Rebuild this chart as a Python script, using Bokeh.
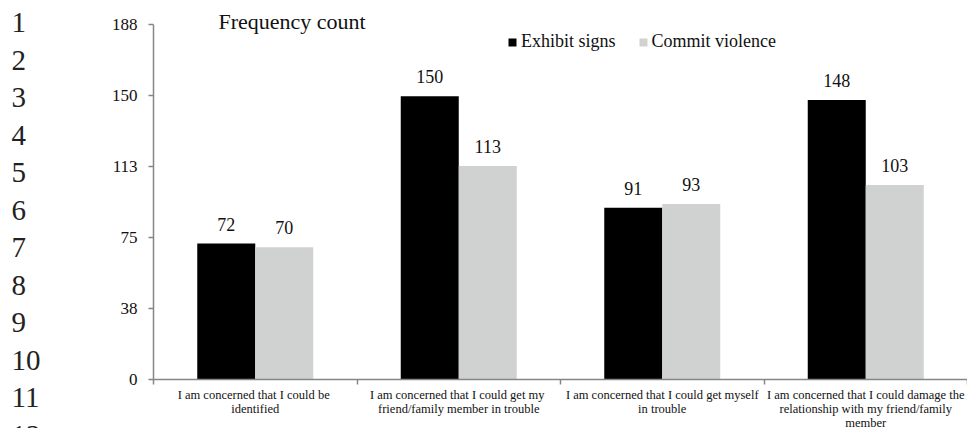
from bokeh.plotting import figure
from bokeh.models import FixedTicker, Range1d, Legend, LegendItem, ColumnDataSource
from bokeh.core.properties import value
from bokeh.embed import file_html
from bokeh.resources import INLINE

# --- data -----------------------------------------------------------------
categories = [
    "I am  concerned that I could be\nidentified",
    "I am concerned that I could  get my\nfriend/family member in trouble",
    "I am concerned that I could get myself\nin trouble",
    "I am concerned that I could damage the\nrelationship with my friend/family\nmember",
]
series_names = ["Exhibit signs", "Commit violence"]
exhibit_signs = [72, 150, 91, 148]
commit_violence = [70, 113, 93, 103]
y_ticks = [0, 37.6, 75.2, 112.8, 150.4, 188]
y_tick_labels = ["0", "38", "75", "113", "150", "188"]
line_numbers = [str(i) for i in range(1, 13)]
chart_title = "Frequency count"

# --- layout / style -------------------------------------------------------
SERIF = "Liberation Serif"
COLORS = ["#000000", "#d0d1d1"]
AXIS_GREY = "#868686"
TEXT = "#111111"
BAR_W = 0.285
W, H = 967, 428
AX_LEFT, AX_TOP, AX_BOTTOM = 153, 24, 379      # pixel box of the axes
N = len(categories)
Y_MAX = y_ticks[-1]
PPU_X = (W - AX_LEFT) / N
PPU_Y = (AX_BOTTOM - AX_TOP) / Y_MAX


def px_x(px):
    return (px - AX_LEFT) / PPU_X


def px_y(py):
    return (AX_BOTTOM - py) / PPU_Y


# The frame covers the whole canvas; both axes sit at data 0 via fixed_location
p = figure(width=W, height=H, output_backend="svg", toolbar_location=None, title=None,
           x_range=Range1d(px_x(0), px_x(W)), y_range=Range1d(px_y(H), px_y(0)),
           min_border=0)
p.outline_line_color = None
p.grid.visible = False
p.background_fill_color = "white"
p.border_fill_color = "white"

centers = [i + 0.5 for i in range(N)]
src = ColumnDataSource(dict(
    x0=[c - BAR_W / 2 for c in centers],
    x1=[c + BAR_W / 2 for c in centers],
    a=exhibit_signs, b=commit_violence,
    la=[str(v) for v in exhibit_signs], lb=[str(v) for v in commit_violence],
))

r_a = p.vbar(x="x0", top="a", width=BAR_W, source=src, fill_color=COLORS[0], line_color=None)
r_b = p.vbar(x="x1", top="b", width=BAR_W, source=src, fill_color=COLORS[1], line_color=None)

for xcol, ycol, lcol in (("x0", "a", "la"), ("x1", "b", "lb")):
    p.text(x=xcol, y=ycol, text=lcol, source=src, text_align="center",
           text_baseline="middle", y_offset=-19.5, text_color=TEXT,
           text_font=value(SERIF), text_font_size="18px")

# --- axes -----------------------------------------------------------------
xa = p.xaxis[0]
xa.fixed_location = 0
xa.bounds = (0, N)
xa.ticker = FixedTicker(ticks=centers, minor_ticks=list(range(N + 1)))
xa.major_label_overrides = dict(zip(centers, categories))
xa.axis_line_color = AXIS_GREY
xa.axis_line_width = 1.5
xa.major_tick_line_color = None
xa.major_tick_out = 0
xa.major_tick_in = 0
xa.minor_tick_line_color = AXIS_GREY
xa.minor_tick_line_width = 1.5
xa.minor_tick_out = 5
xa.minor_tick_in = 0
xa.major_label_standoff = 3
xa.major_label_text_font = SERIF
xa.major_label_text_font_size = "12.5px"
xa.major_label_text_line_height = 1.0
xa.major_label_text_color = TEXT

ya = p.yaxis[0]
ya.fixed_location = 0
ya.bounds = (0, Y_MAX)
ya.ticker = FixedTicker(ticks=y_ticks)
ya.major_label_overrides = dict(zip(y_ticks, y_tick_labels))
ya.axis_line_color = AXIS_GREY
ya.axis_line_width = 1.5
ya.major_tick_line_color = AXIS_GREY
ya.major_tick_line_width = 1.5
ya.major_tick_out = 5
ya.major_tick_in = 0
ya.minor_tick_line_color = None
ya.major_label_standoff = 11
ya.major_label_text_font = SERIF
ya.major_label_text_font_size = "17px"
ya.major_label_text_color = TEXT

# --- legend ---------------------------------------------------------------
legend = Legend(
    items=[LegendItem(label=series_names[0], renderers=[r_a]),
           LegendItem(label=series_names[1], renderers=[r_b])],
    orientation="horizontal", location=(507, H - 52),
    glyph_width=10, glyph_height=10, label_standoff=4, spacing=22,
    padding=0, margin=0, border_line_color=None, background_fill_alpha=0,
    label_text_font=SERIF, label_text_font_size="18px", label_text_color=TEXT,
)
p.add_layout(legend)

# --- chart title ----------------------------------------------------------
p.text(x=[px_x(218)], y=[px_y(21)], text=[chart_title], text_align="left",
       text_baseline="middle", text_color=TEXT, text_font=value(SERIF),
       text_font_size="22px")

# --- manuscript line numbers down the left margin --------------------------
p.text(x=[px_x(11)] * len(line_numbers),
       y=[px_y(22 + 37.5 * i) for i in range(len(line_numbers))],
       text=line_numbers, text_align="left", text_baseline="middle",
       text_color="#222222", text_font=value(SERIF), text_font_size="29px")

open("out.html", "w").write(file_html(p, INLINE))
